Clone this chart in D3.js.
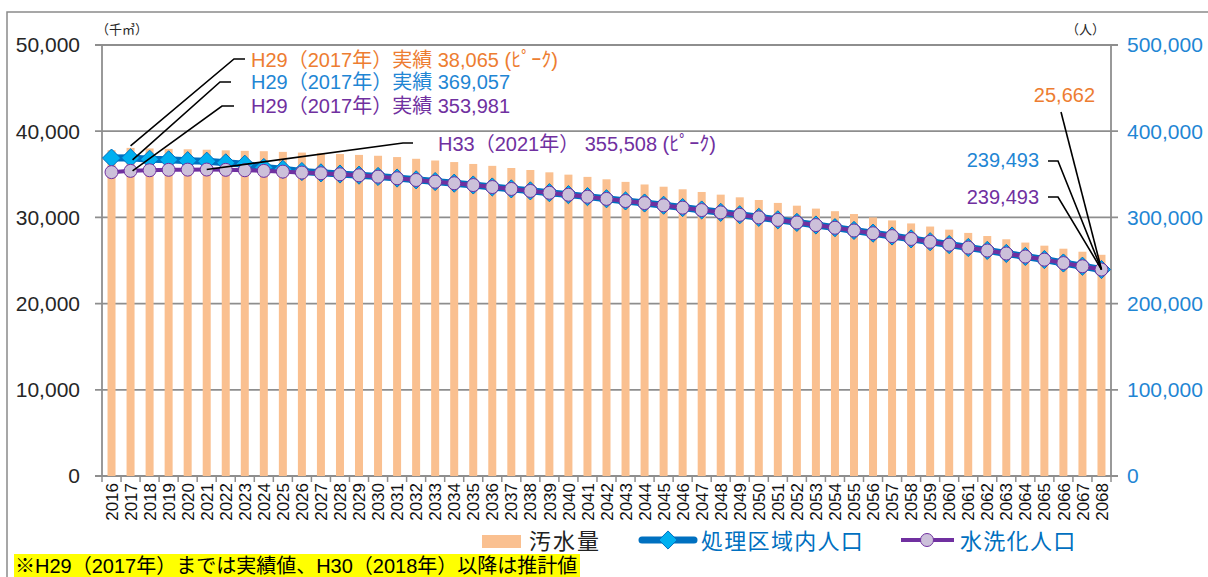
<!DOCTYPE html>
<html>
<head>
<meta charset="utf-8">
<script src="https://cdn.jsdelivr.net/npm/d3@7"></script>
<style>
body { margin: 0; background: #fff; }
svg { display: block; font-family: "Liberation Sans", "Noto Sans CJK JP", sans-serif; }
</style>
</head>
<body>
<svg id="chart" width="1208" height="577"></svg>
<script>
var years = [2016, 2017, 2018, 2019, 2020, 2021, 2022, 2023, 2024, 2025,
	2026, 2027, 2028, 2029, 2030, 2031, 2032, 2033, 2034, 2035,
	2036, 2037, 2038, 2039, 2040, 2041, 2042, 2043, 2044, 2045,
	2046, 2047, 2048, 2049, 2050, 2051, 2052, 2053, 2054, 2055,
	2056, 2057, 2058, 2059, 2060, 2061, 2062, 2063, 2064, 2065,
	2066, 2067, 2068];

// 汚水量 (千m3)
var sewage = [37800, 38065, 38000, 37950, 37900, 37850, 37780, 37720, 37680, 37600,
	37520, 37450, 37350, 37250, 37150, 37000, 36800, 36600, 36420, 36200,
	35980, 35730, 35500, 35230, 34960, 34700, 34420, 34120, 33820, 33560,
	33260, 32950, 32640, 32330, 32020, 31680, 31360, 31020, 30720, 30390,
	30000, 29650, 29300, 28940, 28580, 28200, 27840, 27460, 27080, 26720,
	26370, 26020, 25662];

// 処理区域内人口 (人)
var areaPop = [368800, 369057, 367500, 366800, 365800, 365200, 363300, 361700, 357900, 355800,
	353200, 351700, 350300, 349000, 347500, 345600, 343600, 341600, 339700, 337600,
	335300, 333100, 330800, 328700, 326400, 324100, 321600, 319100, 316700, 314100,
	311400, 308600, 305900, 303100, 300100, 297200, 294200, 291200, 288100, 284900,
	281700, 278400, 275100, 271800, 268500, 265100, 261700, 258200, 254700, 251100,
	247100, 243400, 239493];

// 水洗化人口 (人)
var flushPop = [352500, 353981, 354700, 355200, 355400, 355508, 355200, 354700, 354000, 353100,
	352000, 351200, 350000, 348800, 347300, 345400, 343400, 341400, 339600, 337500,
	335200, 333000, 330700, 328600, 326300, 324000, 321500, 319000, 316600, 314000,
	311300, 308500, 305800, 303000, 300000, 297100, 294100, 291100, 288000, 284800,
	281600, 278300, 275000, 271700, 268400, 265000, 261600, 258100, 254600, 251000,
	247000, 243300, 239493];

var leftTicks = [0, 10000, 20000, 30000, 40000, 50000];
var rightTicks = [0, 100000, 200000, 300000, 400000, 500000];

var colOrange = "#ED7D31";
var colBlue = "#1F86D4";
var colPurple = "#7030A0";

var svg = d3.select("#chart");
var plot = {left: 102, right: 1111, top: 45, bottom: 476};

// frame
svg.append("rect")
	.attr("x", 7).attr("y", 12)
	.attr("width", 1220).attr("height", 600)
	.attr("fill", "none")
	.attr("stroke", "#8a8a8a")
	.attr("stroke-width", 1.5);

var x = d3.scaleBand()
	.domain(years)
	.range([plot.left, plot.right]);

var yL = d3.scaleLinear()
	.domain([0, 50000])
	.range([plot.bottom, plot.top]);

var yR = d3.scaleLinear()
	.domain([0, 500000])
	.range([plot.bottom, plot.top]);

var bw = x.bandwidth();
function cx(d){ return x(d) + bw / 2; }

// grid lines
svg.append("g").selectAll("line")
	.data(leftTicks)
	.enter().append("line")
	.attr("x1", plot.left - 7)
	.attr("x2", plot.right + 7)
	.attr("y1", function(d){ return yL(d); })
	.attr("y2", function(d){ return yL(d); })
	.attr("stroke", "#8e8e8e")
	.attr("stroke-width", 1.8);

// axis lines
svg.append("line")
	.attr("x1", plot.left).attr("x2", plot.left)
	.attr("y1", plot.top).attr("y2", plot.bottom)
	.attr("stroke", "#8e8e8e").attr("stroke-width", 1.8);
svg.append("line")
	.attr("x1", plot.right).attr("x2", plot.right)
	.attr("y1", plot.top).attr("y2", plot.bottom)
	.attr("stroke", "#8e8e8e").attr("stroke-width", 1.8);

// x tick marks between categories
svg.append("g").selectAll("line")
	.data(years.concat(["end"]))
	.enter().append("line")
	.attr("x1", function(d, i){ return plot.left + i * bw; })
	.attr("x2", function(d, i){ return plot.left + i * bw; })
	.attr("y1", plot.bottom)
	.attr("y2", plot.bottom + 6)
	.attr("stroke", "#8e8e8e")
	.attr("stroke-width", 1.5);

// left axis labels
svg.append("g").selectAll("text")
	.data(leftTicks)
	.enter().append("text")
	.attr("x", 80)
	.attr("y", function(d){ return yL(d); })
	.attr("dy", "0.35em")
	.attr("text-anchor", "end")
	.attr("font-size", 21)
	.attr("fill", "#262626")
	.text(d3.format(","));

// right axis labels
svg.append("g").selectAll("text")
	.data(rightTicks)
	.enter().append("text")
	.attr("x", 1127)
	.attr("y", function(d){ return yR(d); })
	.attr("dy", "0.35em")
	.attr("font-size", 21)
	.attr("fill", colBlue)
	.text(d3.format(","));

// unit labels
svg.append("text").attr("x", 96).attr("y", 34)
	.attr("font-size", 13).attr("fill", "#262626").text("（千㎥）");
svg.append("text").attr("x", 1066).attr("y", 34)
	.attr("font-size", 13).attr("fill", "#262626").text("（人）");

// x labels
svg.append("g").selectAll("text")
	.data(years)
	.enter().append("text")
	.attr("transform", function(d){ return "translate(" + cx(d) + "," + (plot.bottom + 7) + ") rotate(-90)"; })
	.attr("text-anchor", "end")
	.attr("dy", "0.36em")
	.attr("font-size", 17)
	.attr("fill", "#111")
	.text(function(d){ return d; });

// bars
var barW = 8;
svg.append("g").selectAll("rect")
	.data(sewage)
	.enter().append("rect")
	.attr("x", function(d, i){ return cx(years[i]) - barW / 2; })
	.attr("y", function(d){ return yL(d); })
	.attr("width", barW)
	.attr("height", function(d){ return plot.bottom - yL(d); })
	.attr("fill", "#FAC090");

// 処理区域内人口 line
var lineR = d3.line()
	.x(function(d, i){ return cx(years[i]); })
	.y(function(d){ return yR(d); });

svg.append("path")
	.datum(areaPop)
	.attr("d", lineR)
	.attr("fill", "none")
	.attr("stroke", "#0070C0")
	.attr("stroke-width", 7)
	.attr("stroke-linejoin", "round");

var diamond = d3.symbol().type(d3.symbolDiamond2).size(210);
svg.append("g").selectAll("path")
	.data(areaPop)
	.enter().append("path")
	.attr("d", diamond)
	.attr("transform", function(d, i){ return "translate(" + cx(years[i]) + "," + yR(d) + ")"; })
	.attr("fill", "#00B0F0")
	.attr("stroke", "#0070C0")
	.attr("stroke-width", 1);

// 水洗化人口 line
svg.append("path")
	.datum(flushPop)
	.attr("d", lineR)
	.attr("fill", "none")
	.attr("stroke", colPurple)
	.attr("stroke-width", 4)
	.attr("stroke-linejoin", "round");

svg.append("g").selectAll("circle")
	.data(flushPop)
	.enter().append("circle")
	.attr("cx", function(d, i){ return cx(years[i]); })
	.attr("cy", function(d){ return yR(d); })
	.attr("r", 6.5)
	.attr("fill", "#CCC0DA")
	.attr("stroke", colPurple)
	.attr("stroke-width", 1);

// annotations
function leader(points){
	svg.append("polyline")
		.attr("points", points.map(function(p){ return p.join(","); }).join(" "))
		.attr("fill", "none")
		.attr("stroke", "#000")
		.attr("stroke-width", 1.6);
}
function label(tx, ty, txt, col, anchor){
	svg.append("text")
		.attr("x", tx).attr("y", ty)
		.attr("dy", "0.35em")
		.attr("text-anchor", anchor || "start")
		.attr("font-size", 20)
		.attr("fill", col)
		.text(txt);
}

var i17 = years.indexOf(2017), i21 = years.indexOf(2021), iEnd = years.length - 1;

leader([[cx(2017), yL(sewage[i17]) - 2], [234, 59], [245, 59]]);
label(251, 60, "H29（2017年）実績 38,065 (ﾋﾟｰｸ)", colOrange);

leader([[cx(2017) + 2, yR(areaPop[i17]) + 2], [220, 82], [231, 82]]);
label(251, 82, "H29（2017年）実績 369,057", colBlue);

leader([[cx(2017) + 2, yR(flushPop[i17])], [222, 106], [234, 106]]);
label(251, 106, "H29（2017年）実績 353,981", colPurple);

leader([[cx(2021), yR(flushPop[i21])], [403, 143], [413, 143]]);
label(438, 144, "H33（2021年） 355,508 (ﾋﾟｰｸ)", colPurple);

var endX = cx(2068), endY = yR(flushPop[iEnd]);
leader([[1061, 112], [endX, endY]]);
label(1095, 95, "25,662", colOrange, "end");

leader([[1048, 161], [1058, 161], [endX, endY]]);
label(1039, 160, "239,493", colBlue, "end");

leader([[1048, 197], [1058, 197], [endX, endY]]);
label(1039, 197, "239,493", colPurple, "end");

// legend
var lg = svg.append("g");
lg.append("rect").attr("x", 482).attr("y", 535).attr("width", 39).attr("height", 13).attr("fill", "#FAC090");
lg.append("text").attr("x", 529).attr("y", 541).attr("dy", "0.36em")
	.attr("font-size", 22).attr("letter-spacing", 2).attr("fill", "#222").text("汚水量");

lg.append("line").attr("x1", 642).attr("x2", 694).attr("y1", 540).attr("y2", 540)
	.attr("stroke", "#0070C0").attr("stroke-width", 7).attr("stroke-linecap", "round");
lg.append("path").attr("d", diamond).attr("transform", "translate(668,540)")
	.attr("fill", "#00B0F0").attr("stroke", "#0070C0").attr("stroke-width", 1);
lg.append("text").attr("x", 701).attr("y", 541).attr("dy", "0.36em")
	.attr("font-size", 22).attr("letter-spacing", 1.3).attr("fill", "#0070C0").text("処理区域内人口");

lg.append("line").attr("x1", 901).attr("x2", 954).attr("y1", 540).attr("y2", 540)
	.attr("stroke", colPurple).attr("stroke-width", 4);
lg.append("circle").attr("cx", 927).attr("cy", 540).attr("r", 6.5)
	.attr("fill", "#CCC0DA").attr("stroke", colPurple).attr("stroke-width", 1);
lg.append("text").attr("x", 960).attr("y", 541).attr("dy", "0.36em")
	.attr("font-size", 22).attr("letter-spacing", 1.3).attr("fill", "#0070C0").text("水洗化人口");

// note
svg.append("rect").attr("x", 14).attr("y", 554).attr("width", 566).attr("height", 23).attr("fill", "#FFFF00");
svg.append("text").attr("x", 15).attr("y", 566).attr("dy", "0.36em")
	.attr("font-size", 20).attr("fill", "#000")
	.text("※H29（2017年）までは実績値、H30（2018年）以降は推計値");
</script>
</body>
</html>
